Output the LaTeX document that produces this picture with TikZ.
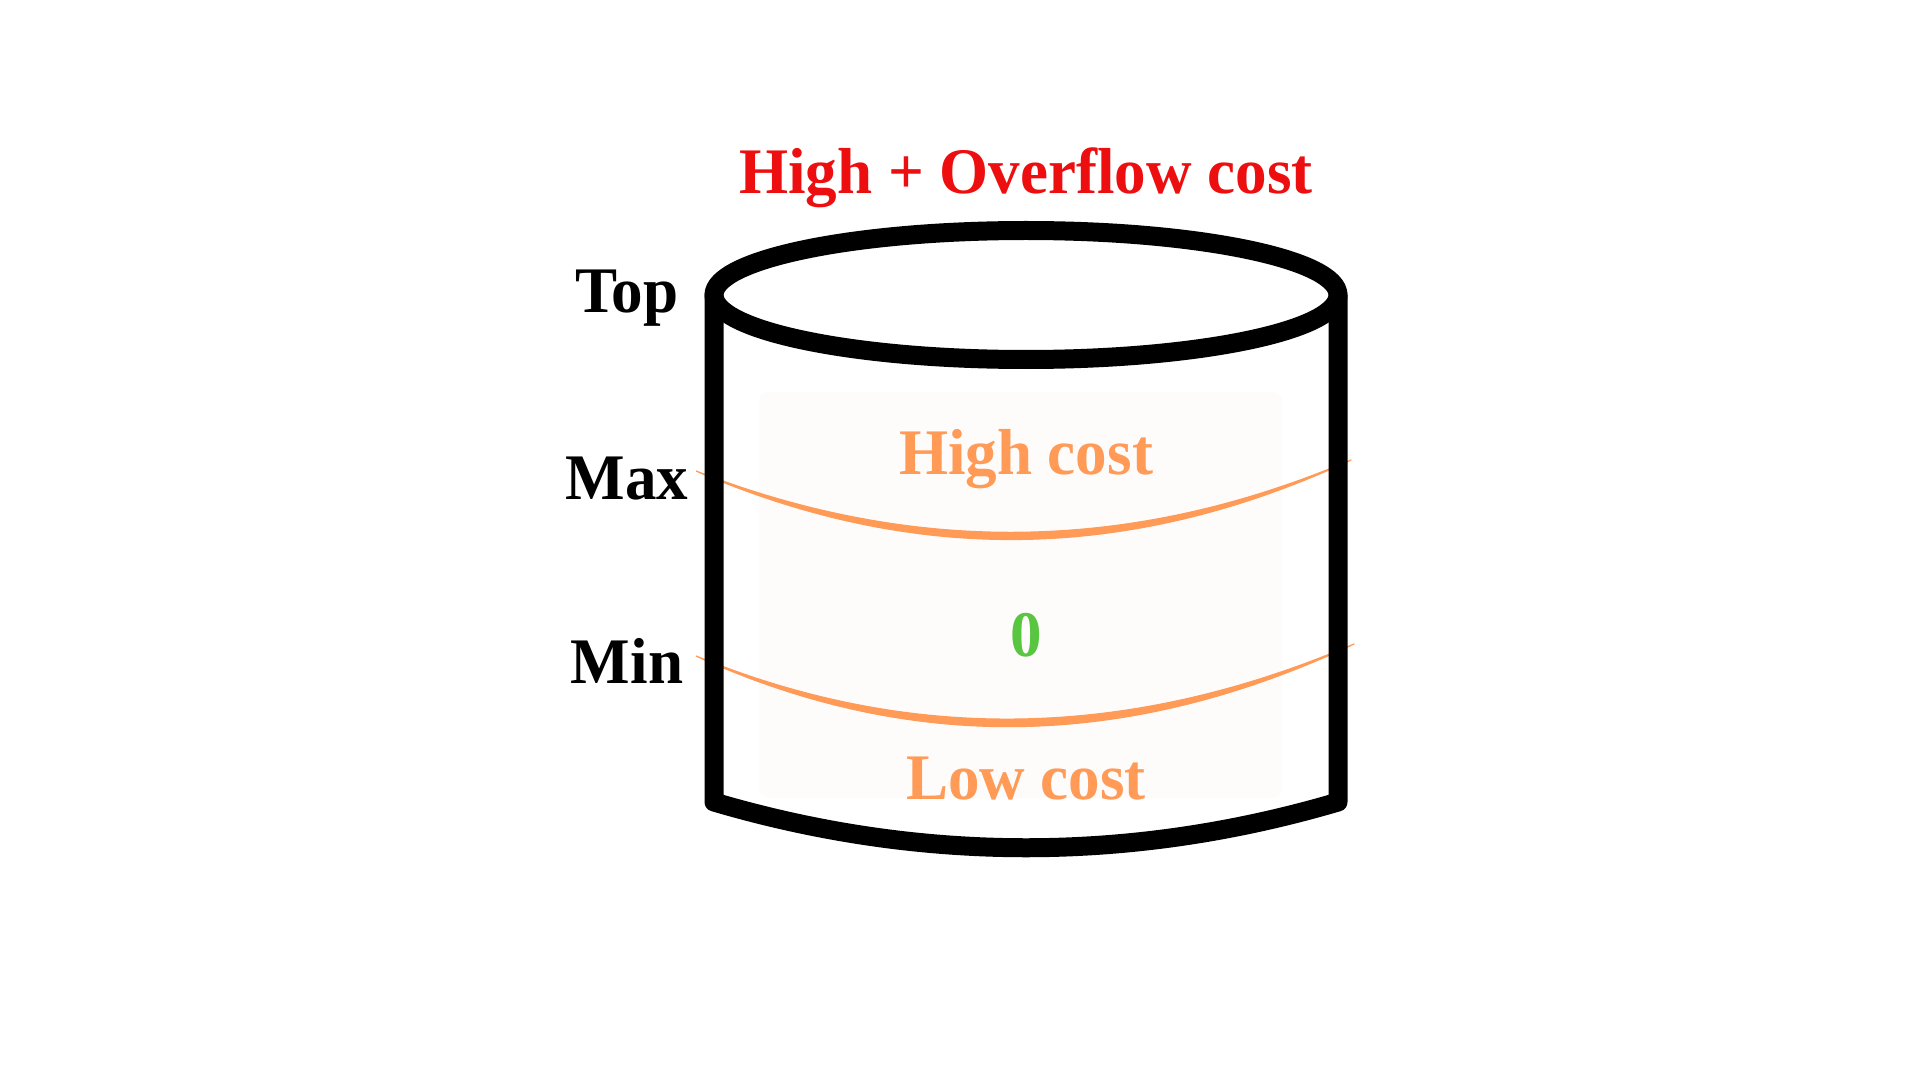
\documentclass[tikz,border=0pt]{standalone}
\usepackage{fontspec}
\usepackage{graphicx}
\newfontfamily\dispfont{Liberation Serif}
\definecolor{titlered}{RGB}{237,14,15}
\definecolor{costorange}{RGB}{255,154,87}
\definecolor{zerogreen}{RGB}{88,198,64}
\definecolor{innerfill}{RGB}{254,252,250}
\newcommand\sqz[1]{\scalebox{0.97}[1]{#1}}
\newcommand\lblfont{\dispfont\bfseries\fontsize{32.5}{38}\selectfont}
\tikzset{
  lbl/.style={anchor=base, inner sep=0pt, font=\lblfont},
  cyl/.style={line width=9.5pt, line join=round, line cap=round, draw=black},
  band/.style={fill=costorange, draw=costorange, line width=0.6pt, line join=round}
}
\begin{document}
\begin{tikzpicture}[x=0.5pt, y=-0.5pt]
\fill[white] (0,0) rectangle (1920,1080);
\useasboundingbox (0,0) rectangle (1920,1080);
% faint inner panel
\fill[innerfill, rounded corners=5pt] (759,392) rectangle (1282,798);
% orange level curves
\filldraw[band] (696,471) .. controls (915,566) and (1132,562) .. (1351,460)
            .. controls (1132,553) and (915,556) .. (696,471);
\filldraw[band] (696,656) .. controls (911,754) and (1129,750) .. (1354,644)
            .. controls (1129,740) and (911,744) .. (696,656);
% cylinder
\draw[cyl] (714,295) -- (714,802) .. controls (921,863) and (1131,863) .. (1338,802) -- (1338,295);
\draw[cyl] (1026,295) ellipse [x radius=156pt, y radius=32.25pt];
% texts
\node[lbl, text=titlered] (title) at (1026,194) {\sqz{High + Overflow cost}};
\node[lbl] (top) at (627,313) {\sqz{Top}};
\node[lbl] (max) at (627,499) {\sqz{Max}};
\node[lbl] (min) at (627,683) {\sqz{Min}};
\node[lbl, text=costorange] (high) at (1026,474) {\sqz{High cost}};
\node[lbl, text=zerogreen] (zero) at (1026,656) {\sqz{0}};
\node[lbl, text=costorange] (low) at (1026,799) {\sqz{Low cost}};
\end{tikzpicture}
\end{document}
